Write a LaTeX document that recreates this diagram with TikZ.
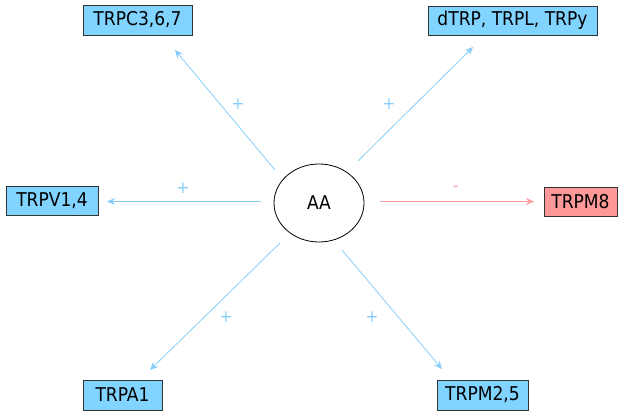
\documentclass[tikz,border=0pt]{standalone}
\usepackage{fontspec}
\setmainfont{DejaVu Sans Condensed}
\usetikzlibrary{arrows.meta,shadows,shapes.geometric}
\definecolor{boxblue}{RGB}{128,212,255}
\definecolor{boxred}{RGB}{255,153,153}
\definecolor{arrblue}{RGB}{135,206,250}
\definecolor{arrred}{RGB}{255,160,160}
\begin{document}
\begin{tikzpicture}[x=1pt,y=-1pt,
  trp/.style={draw=black!80,line width=0.8pt,inner sep=0pt,font=\fontsize{19}{21}\selectfont,
    drop shadow={shadow xshift=1.2pt,shadow yshift=-1.2pt,fill=black!45,opacity=1}},
  bluebox/.style={trp,fill=boxblue},
  redbox/.style={trp,fill=boxred},
  arr/.style={draw=arrblue,line width=0.8pt,-{Stealth[length=8pt,width=7pt,inset=2.5pt]}},
  arrr/.style={draw=arrred,line width=0.8pt,-{Stealth[length=8pt,width=7pt,inset=2.5pt]}},
  plus/.style={text=arrblue,font=\fontsize{17}{17}\selectfont},
  minus/.style={text=arrred,font=\fontsize{17}{17}\selectfont}]
\useasboundingbox (0,0) rectangle (619,412);
\node[draw=black,line width=0.8pt,ellipse,minimum width=90pt,minimum height=78pt,inner sep=0pt,font=\fontsize{19}{21}\selectfont] (AA) at (319,203) {AA};
\node[bluebox,minimum width=109pt,minimum height=30pt] (TRPC) at (137.5,20) {TRPC3,6,7};
\node[bluebox,minimum width=169pt,minimum height=29pt] (DTRP) at (512.5,20.5) {dTRP, TRPL, TRPy};
\node[bluebox,minimum width=92pt,minimum height=29pt] (TRPV) at (52,200.5) {TRPV1,4};
\node[redbox,minimum width=73pt,minimum height=29pt] (TRPM8) at (580.5,201.5) {TRPM8};
\node[bluebox,minimum width=79pt,minimum height=30pt] (TRPA) at (122.5,395) {TRPA1};
\node[bluebox,minimum width=91pt,minimum height=30pt] (TRPM25) at (482.5,395) {TRPM2,5};
\coordinate (s1) at (275,170); \coordinate (e1) at (175,50);
\coordinate (s2) at (358,161); \coordinate (e2) at (473,47);
\coordinate (s3) at (261,201.5); \coordinate (e3) at (107,201.5);
\coordinate (s4) at (380,201.5); \coordinate (e4) at (534,201.5);
\coordinate (s5) at (280,243); \coordinate (e5) at (150,370);
\coordinate (s6) at (342,250); \coordinate (e6) at (442,369);
\draw[arr] (s1) -- (e1);
\draw[arr] (s2) -- (e2);
\draw[arr] (s3) -- (e3);
\draw[arrr] (s4) -- (e4);
\draw[arr] (s5) -- (e5);
\draw[arr] (s6) -- (e6);
\node[plus] (p1) at (238,104) {+};
\node[plus] (p2) at (389,104) {+};
\node[plus] (p3) at (183,188) {+};
\node[minus] (m4) at (456,189) {-};
\node[plus] (p5) at (226,317) {+};
\node[plus] (p6) at (372,317) {+};
\end{tikzpicture}
\end{document}
